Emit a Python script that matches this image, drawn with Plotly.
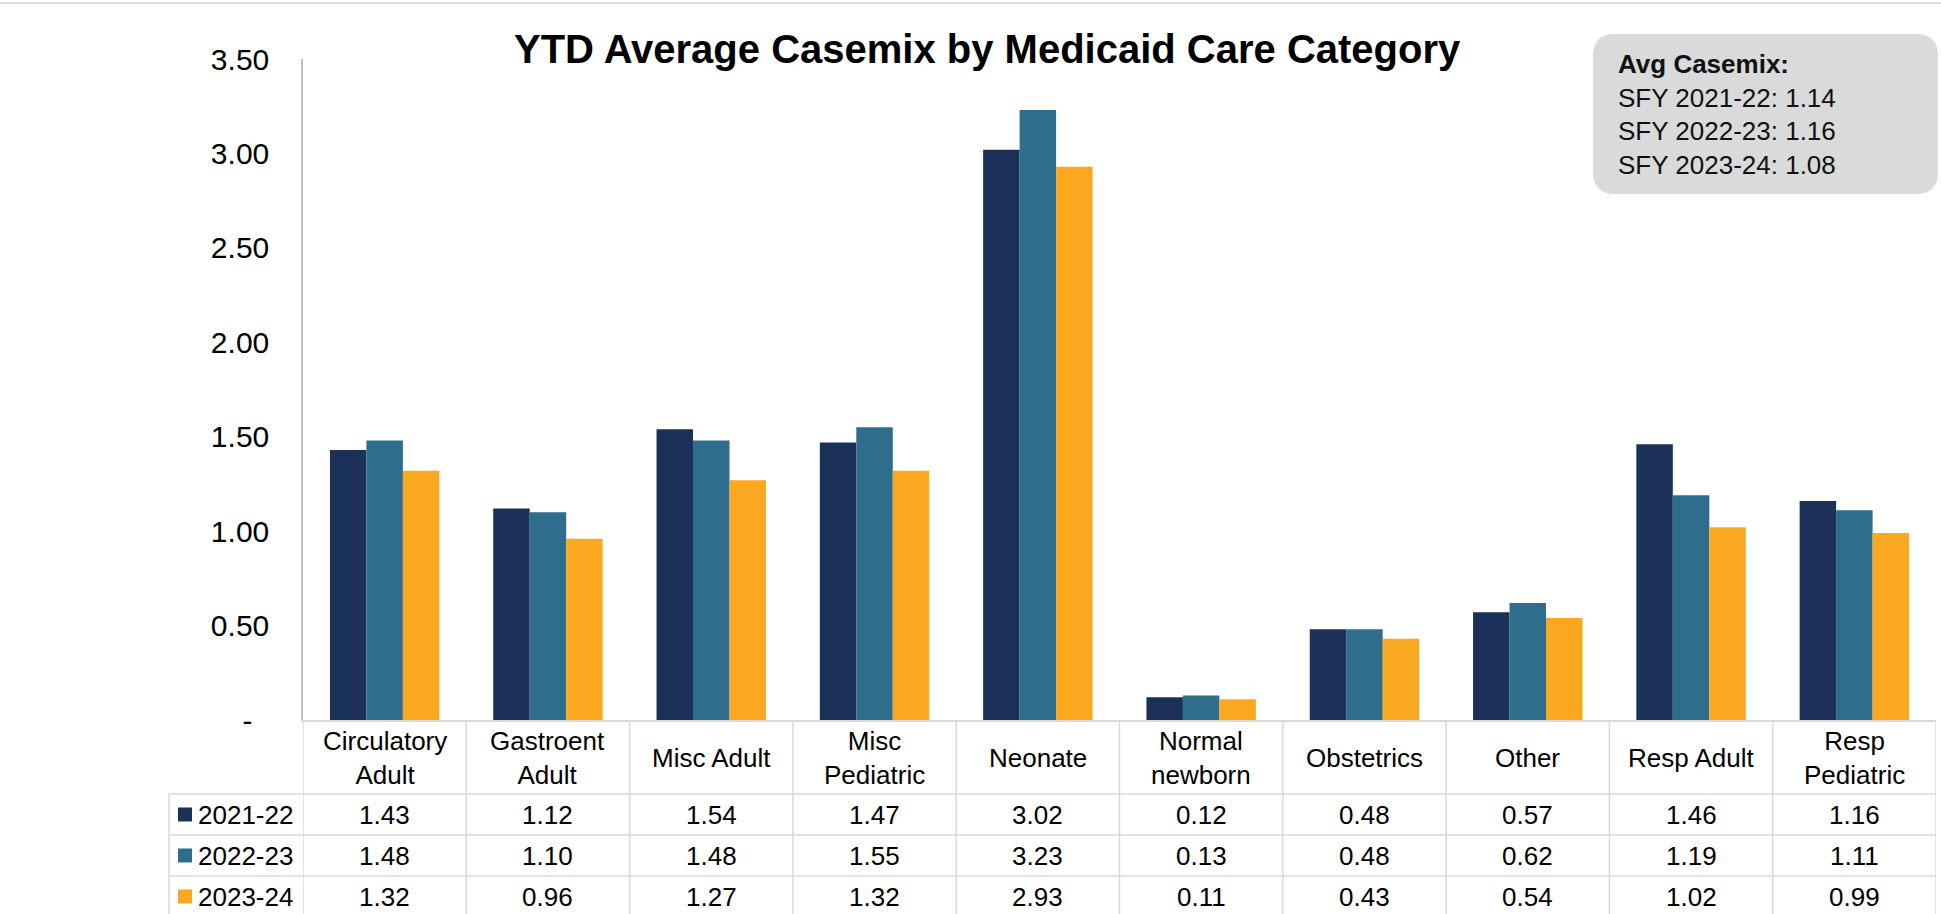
import plotly.graph_objects as go

# ---------------- data ----------------
categories = ["Circulatory Adult", "Gastroent Adult", "Misc Adult", "Misc Pediatric", "Neonate",
              "Normal newborn", "Obstetrics", "Other", "Resp Adult", "Resp Pediatric"]
header_labels = ["Circulatory<br>Adult", "Gastroent<br>Adult", "Misc Adult", "Misc<br>Pediatric", "Neonate",
                 "Normal<br>newborn", "Obstetrics", "Other", "Resp Adult", "Resp<br>Pediatric"]
series_names = ["2021-22", "2022-23", "2023-24"]
v_2021_22 = [1.43, 1.12, 1.54, 1.47, 3.02, 0.12, 0.48, 0.57, 1.46, 1.16]
v_2022_23 = [1.48, 1.10, 1.48, 1.55, 3.23, 0.13, 0.48, 0.62, 1.19, 1.11]
v_2023_24 = [1.32, 0.96, 1.27, 1.32, 2.93, 0.11, 0.43, 0.54, 1.02, 0.99]
series_values = [v_2021_22, v_2022_23, v_2023_24]
colors = ["#1B315A", "#2E6D8C", "#F9A820"]

y_tickvals = [0, 0.5, 1.0, 1.5, 2.0, 2.5, 3.0, 3.5]
y_ticktext = ["-\u00a0\u00a0", "0.50", "1.00", "1.50", "2.00", "2.50", "3.00", "3.50"]

title_text = "YTD Average Casemix by Medicaid Care Category"
box_title = "Avg Casemix:"
box_lines = ["SFY 2021-22: 1.14", "SFY 2022-23: 1.16", "SFY 2023-24: 1.08"]

# ---------------- layout geometry (pixels) ----------------
W, H = 1941, 914
L, R, T, B = 303, 5, 59, 194
PW, PH = W - L - R, H - T - B
FONT = "Liberation Sans, Arial, sans-serif"
GRID = "#D9D9D9"


def px(x):
    return (x - L) / PW


def py(y):
    return (H - B - y) / PH


fig = go.Figure()
for name, vals, col in zip(series_names, series_values, colors):
    fig.add_trace(go.Bar(x=categories, y=vals, name=name, marker=dict(color=col, line=dict(width=0)),
                         showlegend=False, hoverinfo="x+y+name"))

shapes = []
annotations = []

# top thin rule
shapes.append(dict(type="line", xref="paper", yref="paper", x0=px(0), x1=px(W), y0=py(3), y1=py(3),
                   line=dict(color="#D0D0D0", width=1.5)))

# table grid: vertical lines at category boundaries
for i in range(len(categories) + 1):
    shapes.append(dict(type="line", xref="x", yref="paper", x0=i - 0.5, x1=i - 0.5,
                       y0=py(720), y1=py(H + 5), line=dict(color=GRID, width=1.5)))
# legend column left border
shapes.append(dict(type="line", xref="paper", yref="paper", x0=px(169), x1=px(169),
                   y0=py(794), y1=py(H + 5), line=dict(color=GRID, width=1.5)))
# horizontal row lines
for yy in [794, 835, 876]:
    shapes.append(dict(type="line", xref="paper", yref="paper", x0=px(169), x1=1.0,
                       y0=py(yy), y1=py(yy), line=dict(color=GRID, width=1.5)))

# header labels
for cat, lab in zip(categories, header_labels):
    annotations.append(dict(x=cat, xref="x", y=py(757.5), yref="paper", text=lab, showarrow=False,
                            xanchor="center", yanchor="middle", align="center",
                            font=dict(family=FONT, size=26, color="#000")))

row_centers = [814.5, 855.5, 896.5]
for name, vals, col, yc in zip(series_names, series_values, colors, row_centers):
    for cat, v in zip(categories, vals):
        annotations.append(dict(x=cat, xref="x", y=py(yc), yref="paper", text=f"{v:.2f}", showarrow=False,
                                xanchor="center", yanchor="middle",
                                font=dict(family=FONT, size=26, color="#000")))
    # legend key
    shapes.append(dict(type="rect", xref="paper", yref="paper", x0=px(178), x1=px(192),
                       y0=py(yc + 7), y1=py(yc - 7), fillcolor=col, line=dict(width=0)))
    annotations.append(dict(x=px(196), xref="paper", y=py(yc), yref="paper", text=name, showarrow=False,
                            xanchor="left", yanchor="middle",
                            font=dict(family=FONT, size=26, color="#000")))

# title
annotations.append(dict(x=px(987), xref="paper", y=py(49), yref="paper", text=f"<b>{title_text}</b>",
                        showarrow=False, xanchor="center", yanchor="middle",
                        font=dict(family=FONT, size=40, color="#000")))

# rounded info box
bx0, bx1, by0, by1, r = 1593, 1938, 34, 194, 22
pts = [
    f"M {px(bx0 + r)},{py(by0)}",
    f"L {px(bx1 - r)},{py(by0)}",
    f"Q {px(bx1)},{py(by0)} {px(bx1)},{py(by0 + r)}",
    f"L {px(bx1)},{py(by1 - r)}",
    f"Q {px(bx1)},{py(by1)} {px(bx1 - r)},{py(by1)}",
    f"L {px(bx0 + r)},{py(by1)}",
    f"Q {px(bx0)},{py(by1)} {px(bx0)},{py(by1 - r)}",
    f"L {px(bx0)},{py(by0 + r)}",
    f"Q {px(bx0)},{py(by0)} {px(bx0 + r)},{py(by0)}",
    "Z",
]
shapes.append(dict(type="path", xref="paper", yref="paper", path=" ".join(pts),
                   fillcolor="#D9DADA", line=dict(width=0), layer="below"))
box_texts = [f"<b>{box_title}</b>"] + box_lines
for k, t in enumerate(box_texts):
    annotations.append(dict(x=px(1616), xref="paper", y=py(64 + 33.5 * k), yref="paper", text=t,
                            showarrow=False, xanchor="left", yanchor="middle",
                            font=dict(family=FONT, size=26, color="#111")))

fig.update_layout(
    width=W, height=H,
    margin=dict(l=L, r=R, t=T, b=B, autoexpand=False),
    paper_bgcolor="white", plot_bgcolor="white",
    barmode="group", bargap=0.33, bargroupgap=0.0,
    shapes=shapes, annotations=annotations,
    xaxis=dict(type="category", range=[-0.5, len(categories) - 0.5], showticklabels=False,
               showgrid=False, zeroline=False, showline=True, linecolor=GRID, linewidth=1.5, ticks=""),
    yaxis=dict(range=[0, 3.5], tickvals=y_tickvals, ticktext=y_ticktext, showgrid=False, zeroline=False,
               showline=True, linecolor="#BFBFBF", linewidth=1.5, ticks="", ticklabelstandoff=26,
               tickfont=dict(family=FONT, size=30, color="#000")),
)

fig.write_html("out.html", config={"displayModeBar": False},
               post_script="document.body.style.margin='0px';document.body.style.overflow='hidden';")
